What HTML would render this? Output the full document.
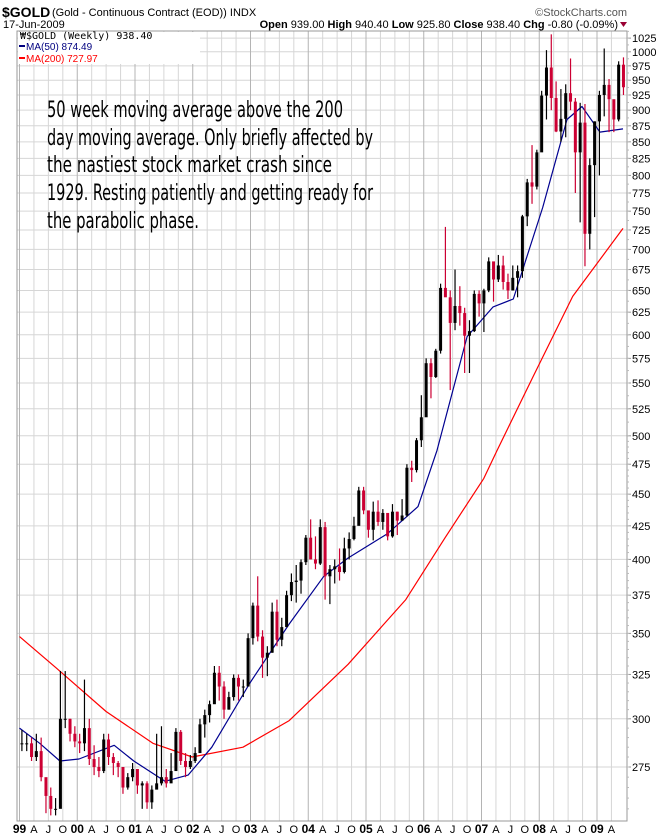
<!DOCTYPE html>
<html><head><meta charset="utf-8"><title>$GOLD weekly chart</title>
<style>
html,body{margin:0;padding:0;background:#fff;}
svg{display:block;font-family:"Liberation Sans",Arial,sans-serif;}
</style></head>
<body>
<svg id="chart" width="670" height="838" viewBox="0 0 670 838" xmlns="http://www.w3.org/2000/svg">
  <rect x="0" y="0" width="670" height="838" fill="#fff"/>
  <g>
    <text x="2" y="17" font-size="14" font-weight="bold">$GOLD</text>
    <text x="52" y="16" font-size="11">(Gold - Continuous Contract (EOD))  INDX</text>
    <text x="627" y="16" font-size="11" fill="#555" text-anchor="end">©StockCharts.com</text>
    <text x="3" y="28" font-size="11">17-Jun-2009</text>
    <text x="618" y="28" font-size="11" text-anchor="end"><tspan font-weight="bold">Open</tspan> 939.00 <tspan font-weight="bold">High</tspan> 940.40 <tspan font-weight="bold">Low</tspan> 925.80 <tspan font-weight="bold">Close</tspan> 938.40 <tspan font-weight="bold">Chg</tspan> -0.80 (-0.09%)</text>
    <path d="M620,22 L627,22 L623.5,27 Z" fill="#990033"/>
  </g>
  <g id="grid"></g>
  <g id="ma200"></g>
  <g id="ma50"></g>
  <g id="candles"></g>
  <g>
    <rect x="18" y="32" width="182" height="32" fill="#fff"/>
    <text x="20" y="39" font-size="10" font-family="'DejaVu Sans Mono','Liberation Mono',monospace">₩$GOLD (Weekly) 938.40</text>
    <line x1="19" y1="46" x2="25" y2="46" stroke="#000080" stroke-width="2"/>
    <text x="26" y="50" font-size="10" fill="#000080">MA(50) 874.49</text>
    <line x1="19" y1="58" x2="25" y2="58" stroke="#ff0000" stroke-width="2"/>
    <text x="26" y="62" font-size="10" fill="#ff0000">MA(200) 727.97</text>
  </g>
  <g font-family="'Liberation Sans Narrow','DejaVu Sans Condensed','Liberation Sans',sans-serif" font-size="22">
    <text x="47" y="117" textLength="296" lengthAdjust="spacingAndGlyphs">50 week moving average above the 200</text>
    <text x="47" y="145" textLength="326" lengthAdjust="spacingAndGlyphs">day moving average. Only briefly affected by</text>
    <text x="47" y="172" textLength="285" lengthAdjust="spacingAndGlyphs">the nastiest stock market crash since</text>
    <text x="47" y="200" textLength="326" lengthAdjust="spacingAndGlyphs">1929. Resting patiently and getting ready for</text>
    <text x="47" y="228" textLength="152" lengthAdjust="spacingAndGlyphs">the parabolic phase.</text>
  </g>
  <rect x="17" y="31" width="610" height="790" fill="none" stroke="#999" stroke-width="1"/>
  <g id="yaxis"></g>
  <g id="xaxis"></g>
</svg>
<script>
// ---- data (monthly, Jan 1999 .. Jun 2009) ----
const startYear = 1999;
const closes = [287,287,280,283,270,261,255,255,300,300,292,288,
 287,295,279,275,273,289,280,277,275,265,270,274,
 266,267,258,264,267,270,267,273,293,278,275,278,
 282,297,302,308,326,318,305,312,323,318,318,347,
 368,348,335,338,364,346,354,375,384,385,398,416,
 400,397,424,388,393,395,391,408,415,425,453,437,
 422,436,428,435,417,436,429,433,472,470,496,517,
 570,556,583,653,642,613,632,624,599,604,646,635,
 650,685,663,680,660,650,665,673,743,790,784,834,
 924,972,920,866,886,928,914,834,880,720,815,882,
 925,942,918,885,977,938];
const highs = [294,292,290,292,290,268,265,260,327,327,300,296,
 292,322,300,286,280,292,292,282,278,275,272,277,
 270,268,268,266,292,296,274,282,295,294,282,281,
 285,300,305,310,330,330,321,315,325,325,322,350,
 370,388,352,342,370,372,360,378,390,396,400,418,
 430,417,430,428,396,400,408,416,420,432,456,456,
 428,444,445,438,432,442,436,446,475,478,498,538,
 575,575,585,658,729,650,675,655,630,616,650,650,
 652,690,670,693,692,670,680,680,745,795,845,838,
 932,1003,1032,948,935,943,988,920,912,910,825,882,
 932,1006,952,915,983,990];
const lows = [283,283,278,278,268,253,252,252,256,295,288,285,
 282,283,276,271,270,272,276,271,270,262,264,268,
 262,255,255,255,265,266,265,271,276,276,270,274,
 277,283,290,298,310,310,300,305,310,310,312,318,
 343,345,323,324,338,342,342,358,371,370,376,396,
 400,393,396,372,369,383,385,390,400,414,428,434,
 416,414,425,422,414,416,418,432,432,460,468,490,
 520,535,555,580,650,543,605,610,560,560,603,620,
 603,648,637,660,651,640,650,642,665,730,760,780,
 845,885,900,865,850,857,900,775,735,679,700,742,
 800,890,865,865,882,925];
const ma50Dates = [1999.0,1999.35,1999.70,2000.03,2000.64,2000.98,2001.52,2001.92,2002.33,2002.99,2003.67,2004.27,2004.69,2005.37,2005.90,2006.23,2006.75,2007.20,2007.55,2008.06,2008.48,2008.74,2009.05,2009.45];
const ma50Values = [295,287,278,279,286,278,268,271,285,320,356,388,401,419,440,487,598,631,640,755,885,906,865,870];
const ma200Dates = [1999.0,1999.63,2000.50,2001.31,2001.99,2002.87,2003.67,2004.69,2005.69,2006.37,2007.04,2007.27,2007.89,2008.58,2009.45];
const ma200Values = [348,329,304,287,280,285,299,331,372,416,463,487,556,643,727];
const yTicks = [275,300,325,350,375,400,425,450,475,500,525,550,575,600,625,650,675,700,725,750,775,800,825,850,875,900,925,950,975,1000,1025];
const yearLabels = ["99","00","01","02","03","04","05","06","07","08","09"];
const quarterLabels = ["A","J","O"];

// ---- scales ----
const PL=17, PR=627, PT=31, PB=821;
function yScale(v){ return 767 - 554*Math.log(v/275); }
function xScale(t){ return 19.5 + 57.75*(t-1999); }
const NS="http://www.w3.org/2000/svg";
function mk(tag, attrs, parent){
  const e=document.createElementNS(NS,tag);
  for(const k in attrs) e.setAttribute(k, attrs[k]);
  parent.appendChild(e); return e;
}
const grid=document.getElementById('grid');
const yaxis=document.getElementById('yaxis');
const xaxis=document.getElementById('xaxis');

yTicks.forEach(v=>{
  const y=yScale(v);
  const ln=mk('line',{x1:PL,x2:PR,y1:y,y2:y,stroke:'#d6d6d6','stroke-width':1},grid);
  
  
  const tk=mk('line',{x1:PR,x2:PR+4,y1:y,y2:y,stroke:'#999','stroke-width':1},yaxis);
  
  
  const t=mk('text',{x:PR+5,y:y+4,'font-size':11},yaxis);
  t.textContent=String(v);
  
  
});
for(let v=255; v<=1040; v+=(v<500?5:12.5)){
  const y=yScale(v); if(y<PT||y>PB) continue;
  const mt=mk('line',{x1:PR,x2:PR+2,y1:y,y2:y,stroke:'#bbb','stroke-width':1},yaxis);
  
  
}
yearLabels.forEach((lab,i)=>{
  for(let q=0;q<4;q++){
    const x=xScale(startYear+i+q*0.25);
    if(x>PR-8) continue;
    if(x>PL+1){
      const vl=mk('line',{x1:x,x2:x,y1:PT,y2:PB,stroke:q===0?'#b4b4b4':'#d6d6d6','stroke-width':1},grid);
      
      
    }
    const t=mk('text',{x:q===0?Math.max(x,17):x,y:833,'font-size':q===0?12:11,'font-weight':q===0?'bold':'normal','text-anchor':'middle'},xaxis);
    t.textContent = q===0?lab:quarterLabels[q-1];
    
    
  }
});

function drawLine(dates, vals, color, parent, name){
  const d=dates.map((t,i)=>(i?'L':'M')+xScale(t).toFixed(1)+','+yScale(vals[i]).toFixed(1)).join(' ');
  const p=mk('path',{d:d,fill:'none',stroke:color,'stroke-width':1.2,'stroke-linejoin':'round'},parent);
  
  
}
drawLine(ma200Dates, ma200Values, '#ff0000', document.getElementById('ma200'), 'ma200-line');
drawLine(ma50Dates, ma50Values, '#000090', document.getElementById('ma50'), 'ma50-line');

const cg=document.getElementById('candles');
closes.forEach((c,i)=>{
  const o = i===0 ? 287 : closes[i-1];
  const t = startYear + (i+0.5)/12;
  const x = xScale(t);
  const col = c>=o ? '#000000' : '#cc0033';
  const w=mk('line',{x1:x,x2:x,y1:yScale(highs[i]),y2:yScale(lows[i]),stroke:col,'stroke-width':1.2},cg);
  
  
  const yt=yScale(Math.max(o,c)), yb=yScale(Math.min(o,c));
  const b=mk('rect',{x:x-1.5,y:yt,width:3,height:Math.max(1,yb-yt),fill:col},cg);
  
  
});
</script>
</body></html>
